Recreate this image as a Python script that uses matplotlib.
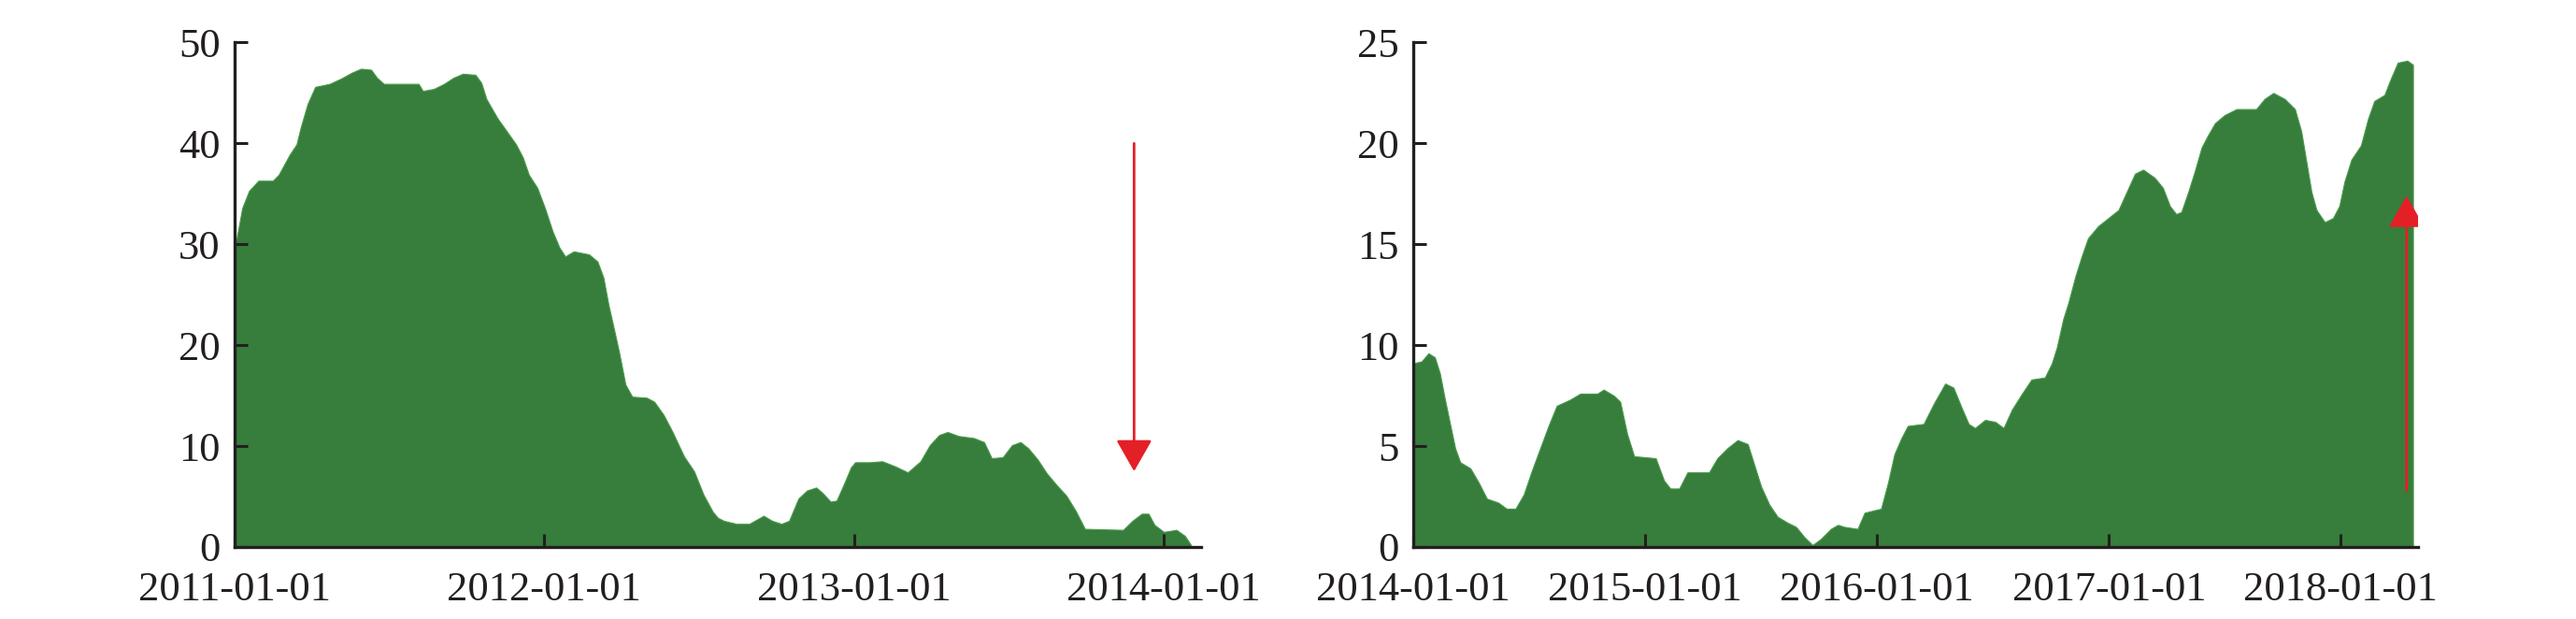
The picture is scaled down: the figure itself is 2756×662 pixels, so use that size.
import numpy as np
import pandas as pd
import matplotlib
matplotlib.use("Agg")
import matplotlib.pyplot as plt
import matplotlib.dates as mdates
from matplotlib.patches import FancyArrowPatch

plt.rcParams['font.family'] = ['Liberation Serif', 'DejaVu Serif']

# left panel: 2011-2014
left_dates = [
    "2011-01-01", "2011-01-10", "2011-01-18", "2011-01-29", "2011-02-15", "2011-02-22",
    "2011-03-07", "2011-03-15", "2011-03-20", "2011-03-28", "2011-04-06", "2011-04-23",
    "2011-05-06", "2011-05-19", "2011-05-30", "2011-06-11", "2011-06-18", "2011-06-26",
    "2011-08-06", "2011-08-11", "2011-08-24", "2011-09-05", "2011-09-16", "2011-09-27",
    "2011-10-12", "2011-10-19", "2011-10-25", "2011-11-07", "2011-11-18", "2011-11-29",
    "2011-12-07", "2011-12-14", "2011-12-24", "2012-01-02", "2012-01-11", "2012-01-19",
    "2012-01-26", "2012-02-05", "2012-02-23", "2012-03-04", "2012-03-11", "2012-03-17",
    "2012-03-24", "2012-03-30", "2012-04-06", "2012-04-14", "2012-05-01", "2012-05-10",
    "2012-05-21", "2012-05-31", "2012-06-14", "2012-06-26", "2012-07-07", "2012-07-18",
    "2012-07-24", "2012-07-31", "2012-08-15", "2012-08-30", "2012-09-16", "2012-09-26",
    "2012-10-07", "2012-10-16", "2012-10-27", "2012-11-06", "2012-11-17", "2012-11-24",
    "2012-12-04", "2012-12-11", "2012-12-20", "2012-12-28", "2013-01-02", "2013-01-19",
    "2013-02-03", "2013-02-18", "2013-03-05", "2013-03-20", "2013-03-31", "2013-04-11",
    "2013-04-21", "2013-05-04", "2013-05-22", "2013-06-03", "2013-06-12", "2013-06-25",
    "2013-07-06", "2013-07-16", "2013-07-25", "2013-08-05", "2013-08-16", "2013-08-27",
    "2013-09-08", "2013-09-19", "2013-09-30", "2013-11-14", "2013-11-25", "2013-12-06",
    "2013-12-14", "2013-12-21", "2014-01-01", "2014-01-16", "2014-01-26", "2014-02-02",
]
left_values = [
    29.5, 33.6, 35.3, 36.3, 36.3, 36.9,
    38.9, 39.9, 41.6, 43.9, 45.6, 45.9,
    46.4, 47.0, 47.4, 47.3, 46.5, 45.9,
    45.9, 45.2, 45.4, 45.9, 46.5, 46.9,
    46.8, 46.0, 44.4, 42.5, 41.2, 39.9,
    38.6, 36.9, 35.6, 33.6, 31.3, 29.7,
    28.8, 29.3, 29.0, 28.3, 26.7, 24.0,
    21.4, 19.1, 16.1, 14.9, 14.8, 14.4,
    13.1, 11.5, 9.0, 7.5, 5.2, 3.5,
    2.9, 2.6, 2.3, 2.3, 3.1, 2.6,
    2.3, 2.6, 4.8, 5.6, 5.9, 5.4,
    4.5, 4.6, 6.3, 7.9, 8.4, 8.4,
    8.5, 8.0, 7.4, 8.5, 10.1, 11.1,
    11.4, 11.0, 10.8, 10.4, 8.8, 8.9,
    10.1, 10.4, 9.8, 8.7, 7.3, 6.2,
    5.1, 3.6, 1.8, 1.7, 2.6, 3.3,
    3.3, 2.2, 1.5, 1.7, 1.1, 0.2,
]

# right panel: 2014-2018
right_dates = [
    "2014-01-01", "2014-01-14", "2014-01-25", "2014-02-04", "2014-02-12", "2014-02-20",
    "2014-02-28", "2014-03-08", "2014-03-16", "2014-04-01", "2014-04-14", "2014-04-27",
    "2014-05-15", "2014-05-28", "2014-06-11", "2014-06-24", "2014-07-07", "2014-07-20",
    "2014-08-02", "2014-08-15", "2014-09-05", "2014-09-21", "2014-10-18", "2014-10-28",
    "2014-11-13", "2014-11-23", "2014-12-04", "2014-12-15", "2015-01-18", "2015-01-31",
    "2015-02-10", "2015-02-24", "2015-03-09", "2015-04-12", "2015-04-25", "2015-05-11",
    "2015-05-27", "2015-06-12", "2015-06-22", "2015-07-03", "2015-07-16", "2015-07-29",
    "2015-08-14", "2015-08-27", "2015-09-09", "2015-09-22", "2015-10-05", "2015-10-21",
    "2015-11-01", "2015-11-11", "2015-12-02", "2015-12-13", "2016-01-08", "2016-01-19",
    "2016-01-29", "2016-02-09", "2016-02-19", "2016-03-15", "2016-03-31", "2016-04-18",
    "2016-05-01", "2016-05-14", "2016-05-25", "2016-06-04", "2016-06-20", "2016-07-06",
    "2016-07-19", "2016-08-01", "2016-08-17", "2016-09-01", "2016-09-22", "2016-10-03",
    "2016-10-11", "2016-10-21", "2016-10-29", "2016-11-09", "2016-11-19", "2016-11-29",
    "2016-12-15", "2016-12-31", "2017-01-16", "2017-01-29", "2017-02-11", "2017-02-24",
    "2017-03-14", "2017-03-27", "2017-04-07", "2017-04-17", "2017-04-25", "2017-05-06",
    "2017-05-16", "2017-05-27", "2017-06-06", "2017-06-17", "2017-07-02", "2017-07-21",
    "2017-08-21", "2017-09-03", "2017-09-17", "2017-10-05", "2017-10-21", "2017-10-31",
    "2017-11-08", "2017-11-16", "2017-11-24", "2017-12-07", "2017-12-20", "2017-12-30",
    "2018-01-07", "2018-01-18", "2018-02-02", "2018-02-13", "2018-02-23", "2018-03-11",
    "2018-03-21", "2018-04-01", "2018-04-16", "2018-04-25",
]
right_values = [
    9.1, 9.2, 9.6, 9.4, 8.6, 7.3,
    6.1, 4.9, 4.2, 3.9, 3.2, 2.4,
    2.2, 1.9, 1.9, 2.6, 3.8, 4.9,
    6.0, 7.0, 7.3, 7.6, 7.6, 7.8,
    7.5, 7.2, 5.6, 4.5, 4.4, 3.3,
    2.9, 2.9, 3.7, 3.7, 4.4, 4.9,
    5.3, 5.1, 4.1, 3.0, 2.1, 1.5,
    1.2, 1.0, 0.5, 0.1, 0.4, 0.9,
    1.1, 1.0, 0.9, 1.7, 1.9, 3.2,
    4.6, 5.4, 6.0, 6.1, 7.1, 8.1,
    7.9, 6.9, 6.1, 5.9, 6.3, 6.2,
    5.9, 6.8, 7.6, 8.3, 8.4, 9.1,
    9.9, 11.3, 12.1, 13.4, 14.4, 15.3,
    15.9, 16.3, 16.7, 17.6, 18.5, 18.7,
    18.3, 17.8, 16.9, 16.5, 16.6, 17.6,
    18.6, 19.8, 20.4, 21.0, 21.4, 21.7,
    21.7, 22.2, 22.5, 22.2, 21.7, 20.6,
    19.1, 17.6, 16.7, 16.1, 16.3, 16.9,
    18.1, 19.2, 19.9, 21.2, 22.1, 22.4,
    23.2, 24.0, 24.1, 23.9,
]

left_ticks = ["2011-01-01", "2012-01-01", "2013-01-01", "2014-01-01"]
right_ticks = ["2014-01-01", "2015-01-01", "2016-01-01", "2017-01-01", "2018-01-01"]
left_xlim = ("2011-01-01", "2014-02-14")
right_xlim = ("2014-01-01", "2018-05-03")

# arrows: (date, start value, end value)
left_arrow = ("2013-11-27", 40.0, 7.5)
right_arrow = ("2018-04-15", 2.8, 17.4)

green = '#377d3b'
red = '#e41f26'
ink = '#231f20'

W, H = 2756, 662
fig = plt.figure(figsize=(W / 100, H / 100), dpi=100)
ax1 = fig.add_axes([251 / W, 1 - 585 / H, (1285 - 251) / W, (585 - 45.4) / H])
ax2 = fig.add_axes([1512 / W, 1 - 585 / H, (2587 - 1512) / W, (585 - 45.4) / H])


def style(ax, dates, values, ticks, xlim, ymax, ystep, arrow):
    d = pd.to_datetime(dates)
    ax.fill_between(d, 0, values, color=green, lw=0.8, edgecolor='#4a9a4e')
    ax.set_xlim(pd.to_datetime(xlim[0]), pd.to_datetime(xlim[1]))
    ax.set_ylim(0, ymax)
    ax.set_yticks(np.arange(0, ymax + 0.1, ystep))
    ax.set_xticks(pd.to_datetime(ticks))
    ax.xaxis.set_major_formatter(mdates.DateFormatter('%Y-%m-%d'))
    for s in ['top', 'right']:
        ax.spines[s].set_visible(False)
    for s in ['left', 'bottom']:
        ax.spines[s].set_linewidth(2.4)
        ax.spines[s].set_color(ink)
    ax.tick_params(axis='both', direction='in', length=10, width=2.2,
                   color=ink, labelsize=32, labelcolor=ink)
    ax.tick_params(axis='x', pad=19)
    ax.tick_params(axis='y', pad=11)
    ax.patch.set_alpha(0)
    ax.set_axisbelow(False)

    xa = mdates.date2num(pd.to_datetime(arrow[0]))
    arr = FancyArrowPatch((xa, arrow[1]), (xa, arrow[2]),
                          arrowstyle='-|>,head_length=21,head_width=12',
                          mutation_scale=1, shrinkA=0, shrinkB=0,
                          color=red, lw=2.0, zorder=5)
    ax.add_patch(arr)


style(ax1, left_dates, left_values, left_ticks, left_xlim, 50, 10, left_arrow)
style(ax2, right_dates, right_values, right_ticks, right_xlim, 25, 5, right_arrow)

fig.savefig('out.png', dpi=100)
